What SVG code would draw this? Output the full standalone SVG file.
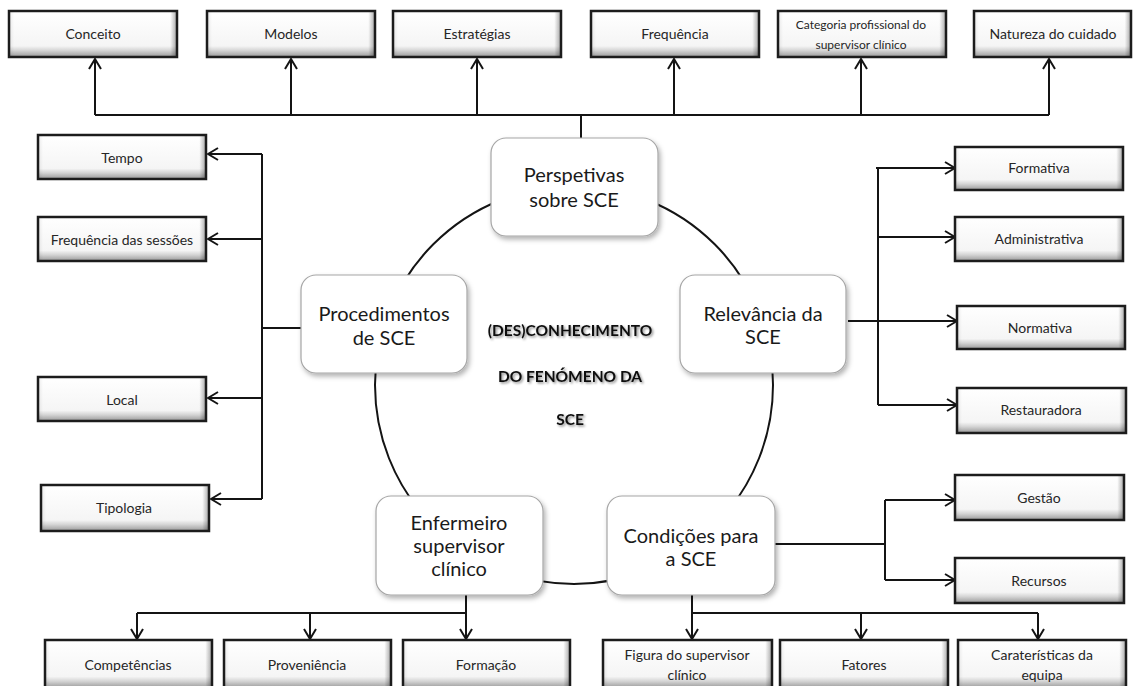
<svg xmlns="http://www.w3.org/2000/svg" width="1136" height="686" viewBox="0 0 1136 686">
  <defs>
    <style>
      .box rect.base { fill: url(#bevelV); stroke: none; }
      .box rect.side { fill: url(#bevelH); stroke: none; }
      .box rect.frame { fill: none; stroke: #1c1c1c; stroke-width: 2.5; }
      .box text { font-family: Lato, "Liberation Sans", sans-serif; font-size: 14px; fill: #262626; text-anchor: middle; dominant-baseline: central; }
      .box text.small { font-size: 12px; }
      .hub rect { fill: #ffffff; stroke: #a6a6a6; stroke-width: 1.2; filter: url(#softShadow); }
      .hub text { font-family: Lato, "Liberation Sans", sans-serif; font-size: 20px; fill: #1a1a1a; text-anchor: middle; dominant-baseline: central; }
      .wire { fill: none; stroke: #141414; stroke-width: 2; }
      .arrow { marker-end: url(#openHead); }
      .ring { fill: none; stroke: #141414; stroke-width: 2; }
      .core text { font-family: Lato, "Liberation Sans", sans-serif; font-size: 15.5px; font-weight: bold; fill: #111; text-anchor: middle; dominant-baseline: central; filter: url(#textShadow); }
    </style>
    <linearGradient id="bevelV" x1="0" y1="0" x2="0" y2="1">
      <stop offset="0" stop-color="#ffffff"/>
      <stop offset="0.76" stop-color="#f5f5f5"/>
      <stop offset="0.86" stop-color="#d4d4d4"/>
      <stop offset="1" stop-color="#989898"/>
    </linearGradient>
    <linearGradient id="bevelH" x1="0" y1="0" x2="1" y2="0">
      <stop offset="0" stop-color="#000" stop-opacity="0.08"/>
      <stop offset="0.03" stop-color="#000" stop-opacity="0"/>
      <stop offset="0.96" stop-color="#000" stop-opacity="0"/>
      <stop offset="1" stop-color="#000" stop-opacity="0.34"/>
    </linearGradient>
    <filter id="softShadow" x="-10%" y="-10%" width="125%" height="130%">
      <feDropShadow dx="2" dy="3" stdDeviation="2.5" flood-color="#000" flood-opacity="0.3"/>
    </filter>
    <filter id="textShadow" x="-10%" y="-30%" width="125%" height="170%">
      <feDropShadow dx="1.5" dy="1.5" stdDeviation="1.2" flood-color="#000" flood-opacity="0.45"/>
    </filter>
    <marker id="openHead" viewBox="0 0 12 14" refX="11" refY="7" markerWidth="12" markerHeight="14" markerUnits="userSpaceOnUse" orient="auto">
      <path d="M1,1 L11,7 L1,13" fill="none" stroke="#141414" stroke-width="2"/>
    </marker>
  </defs>

  <rect width="1136" height="686" fill="#ffffff"/>

  <!-- ring joining the five main themes -->
  <circle class="ring" cx="574" cy="385" r="199"/>

  <!-- connectors -->
  <g id="connectors">
    <!-- Perspetivas: bus to the top row -->
    <path class="wire" d="M581,138 V115 M95,115 H1049"/>
    <path class="wire arrow" d="M95,115 V59"/>
    <path class="wire arrow" d="M291,115 V59"/>
    <path class="wire arrow" d="M477,115 V59"/>
    <path class="wire arrow" d="M674,115 V59"/>
    <path class="wire arrow" d="M861,115 V59"/>
    <path class="wire arrow" d="M1049,115 V59"/>

    <!-- Procedimentos: bus to the left column -->
    <path class="wire" d="M301,328 H262 M262,154 V499"/>
    <path class="wire arrow" d="M262,154 H208"/>
    <path class="wire arrow" d="M262,239 H208"/>
    <path class="wire arrow" d="M262,398 H208"/>
    <path class="wire arrow" d="M262,499 H211"/>

    <!-- Relevância: bus to the right column -->
    <path class="wire" d="M878,168 V405"/>
    <path class="wire arrow" d="M876,168 H955"/>
    <path class="wire arrow" d="M878,237 H955"/>
    <path class="wire arrow" d="M848,321 H957"/>
    <path class="wire arrow" d="M878,405 H957"/>

    <!-- Condições: Gestão / Recursos -->
    <path class="wire" d="M775,544 H885 M885,500 V580"/>
    <path class="wire arrow" d="M885,500 H955"/>
    <path class="wire arrow" d="M885,580 H955"/>

    <!-- Enfermeiro: bottom left row -->
    <path class="wire" d="M137,613 H466"/>
    <path class="wire arrow" d="M466,595 V639"/>
    <path class="wire arrow" d="M137,613 V639"/>
    <path class="wire arrow" d="M310,613 V639"/>

    <!-- Condições: bottom right row -->
    <path class="wire" d="M692,613 H1038"/>
    <path class="wire arrow" d="M692,595 V639"/>
    <path class="wire arrow" d="M861,613 V639"/>
    <path class="wire arrow" d="M1038,613 V639"/>
  </g>

  <!-- central hubs -->
  <g id="hub-perspetivas" class="hub">
    <rect x="491" y="138" width="167" height="98" rx="15"/>
    <text x="574" y="174">Perspetivas</text>
    <text x="574" y="199">sobre SCE</text>
  </g>
  <g id="hub-procedimentos" class="hub">
    <rect x="301" y="275" width="166" height="98" rx="15"/>
    <text x="384" y="313">Procedimentos</text>
    <text x="384" y="337">de SCE</text>
  </g>
  <g id="hub-relevancia" class="hub">
    <rect x="680" y="275" width="166" height="98" rx="15"/>
    <text x="763" y="313">Relevância da</text>
    <text x="763" y="336">SCE</text>
  </g>
  <g id="hub-enfermeiro" class="hub">
    <rect x="376" y="496" width="167" height="99" rx="15"/>
    <text x="459" y="522">Enfermeiro</text>
    <text x="459" y="545">supervisor</text>
    <text x="459" y="568">clínico</text>
  </g>
  <g id="hub-condicoes" class="hub">
    <rect x="607" y="496" width="168" height="99" rx="15"/>
    <text x="691" y="535">Condições para</text>
    <text x="691" y="558">a SCE</text>
  </g>

  <!-- central title -->
  <g id="core" class="core">
    <text x="570" y="330">(DES)CONHECIMENTO</text>
    <text x="570" y="376">DO FENÓMENO DA</text>
    <text x="570" y="419">SCE</text>
  </g>

  <!-- top row -->
  <g id="n-conceito" class="box">
    <rect class="base" x="9" y="11" width="168" height="46"/><rect class="side" x="9" y="11" width="168" height="46"/><rect class="frame" x="9" y="11" width="168" height="46"/>
    <text x="93" y="33">Conceito</text>
  </g>
  <g id="n-modelos" class="box">
    <rect class="base" x="207" y="11" width="168" height="46"/><rect class="side" x="207" y="11" width="168" height="46"/><rect class="frame" x="207" y="11" width="168" height="46"/>
    <text x="291" y="33">Modelos</text>
  </g>
  <g id="n-estrategias" class="box">
    <rect class="base" x="393" y="11" width="168" height="46"/><rect class="side" x="393" y="11" width="168" height="46"/><rect class="frame" x="393" y="11" width="168" height="46"/>
    <text x="477" y="33">Estratégias</text>
  </g>
  <g id="n-frequencia" class="box">
    <rect class="base" x="591" y="11" width="168" height="46"/><rect class="side" x="591" y="11" width="168" height="46"/><rect class="frame" x="591" y="11" width="168" height="46"/>
    <text x="675" y="33">Frequência</text>
  </g>
  <g id="n-categoria" class="box">
    <rect class="base" x="778" y="11" width="168" height="46"/><rect class="side" x="778" y="11" width="168" height="46"/><rect class="frame" x="778" y="11" width="168" height="46"/>
    <text class="small" x="861" y="24">Categoria profissional do</text>
    <text class="small" x="861" y="44">supervisor clínico</text>
  </g>
  <g id="n-natureza" class="box">
    <rect class="base" x="974" y="11" width="157" height="46"/><rect class="side" x="974" y="11" width="157" height="46"/><rect class="frame" x="974" y="11" width="157" height="46"/>
    <text x="1053" y="33">Natureza do cuidado</text>
  </g>

  <!-- left column -->
  <g id="n-tempo" class="box">
    <rect class="base" x="38" y="135" width="168" height="44"/><rect class="side" x="38" y="135" width="168" height="44"/><rect class="frame" x="38" y="135" width="168" height="44"/>
    <text x="122" y="157">Tempo</text>
  </g>
  <g id="n-freq-sessoes" class="box">
    <rect class="base" x="38" y="217" width="168" height="44"/><rect class="side" x="38" y="217" width="168" height="44"/><rect class="frame" x="38" y="217" width="168" height="44"/>
    <text x="122" y="239">Frequência das sessões</text>
  </g>
  <g id="n-local" class="box">
    <rect class="base" x="38" y="377" width="168" height="44"/><rect class="side" x="38" y="377" width="168" height="44"/><rect class="frame" x="38" y="377" width="168" height="44"/>
    <text x="122" y="399">Local</text>
  </g>
  <g id="n-tipologia" class="box">
    <rect class="base" x="41" y="485" width="168" height="46"/><rect class="side" x="41" y="485" width="168" height="46"/><rect class="frame" x="41" y="485" width="168" height="46"/>
    <text x="124" y="507">Tipologia</text>
  </g>

  <!-- right column -->
  <g id="n-formativa" class="box">
    <rect class="base" x="955" y="147" width="168" height="43"/><rect class="side" x="955" y="147" width="168" height="43"/><rect class="frame" x="955" y="147" width="168" height="43"/>
    <text x="1039" y="167">Formativa</text>
  </g>
  <g id="n-administrativa" class="box">
    <rect class="base" x="955" y="217" width="168" height="44"/><rect class="side" x="955" y="217" width="168" height="44"/><rect class="frame" x="955" y="217" width="168" height="44"/>
    <text x="1039" y="238">Administrativa</text>
  </g>
  <g id="n-normativa" class="box">
    <rect class="base" x="957" y="306" width="168" height="43"/><rect class="side" x="957" y="306" width="168" height="43"/><rect class="frame" x="957" y="306" width="168" height="43"/>
    <text x="1040" y="327">Normativa</text>
  </g>
  <g id="n-restauradora" class="box">
    <rect class="base" x="957" y="388" width="169" height="45"/><rect class="side" x="957" y="388" width="169" height="45"/><rect class="frame" x="957" y="388" width="169" height="45"/>
    <text x="1041" y="409">Restauradora</text>
  </g>
  <g id="n-gestao" class="box">
    <rect class="base" x="955" y="475" width="169" height="45"/><rect class="side" x="955" y="475" width="169" height="45"/><rect class="frame" x="955" y="475" width="169" height="45"/>
    <text x="1039" y="497">Gestão</text>
  </g>
  <g id="n-recursos" class="box">
    <rect class="base" x="955" y="558" width="169" height="45"/><rect class="side" x="955" y="558" width="169" height="45"/><rect class="frame" x="955" y="558" width="169" height="45"/>
    <text x="1039" y="580">Recursos</text>
  </g>

  <!-- bottom row -->
  <g id="n-competencias" class="box">
    <rect class="base" x="45" y="640" width="167" height="48"/><rect class="side" x="45" y="640" width="167" height="48"/><rect class="frame" x="45" y="640" width="167" height="48"/>
    <text x="128" y="664">Competências</text>
  </g>
  <g id="n-proveniencia" class="box">
    <rect class="base" x="224" y="640" width="167" height="48"/><rect class="side" x="224" y="640" width="167" height="48"/><rect class="frame" x="224" y="640" width="167" height="48"/>
    <text x="307" y="664">Proveniência</text>
  </g>
  <g id="n-formacao" class="box">
    <rect class="base" x="403" y="640" width="167" height="48"/><rect class="side" x="403" y="640" width="167" height="48"/><rect class="frame" x="403" y="640" width="167" height="48"/>
    <text x="486" y="664">Formação</text>
  </g>
  <g id="n-figura" class="box">
    <rect class="base" x="603" y="640" width="169" height="48"/><rect class="side" x="603" y="640" width="169" height="48"/><rect class="frame" x="603" y="640" width="169" height="48"/>
    <text x="687" y="654">Figura do supervisor</text>
    <text x="687" y="674">clínico</text>
  </g>
  <g id="n-fatores" class="box">
    <rect class="base" x="780" y="640" width="168" height="48"/><rect class="side" x="780" y="640" width="168" height="48"/><rect class="frame" x="780" y="640" width="168" height="48"/>
    <text x="864" y="664">Fatores</text>
  </g>
  <g id="n-caracteristicas" class="box">
    <rect class="base" x="958" y="640" width="168" height="48"/><rect class="side" x="958" y="640" width="168" height="48"/><rect class="frame" x="958" y="640" width="168" height="48"/>
    <text x="1042" y="654">Caraterísticas da</text>
    <text x="1042" y="674">equipa</text>
  </g>
</svg>
